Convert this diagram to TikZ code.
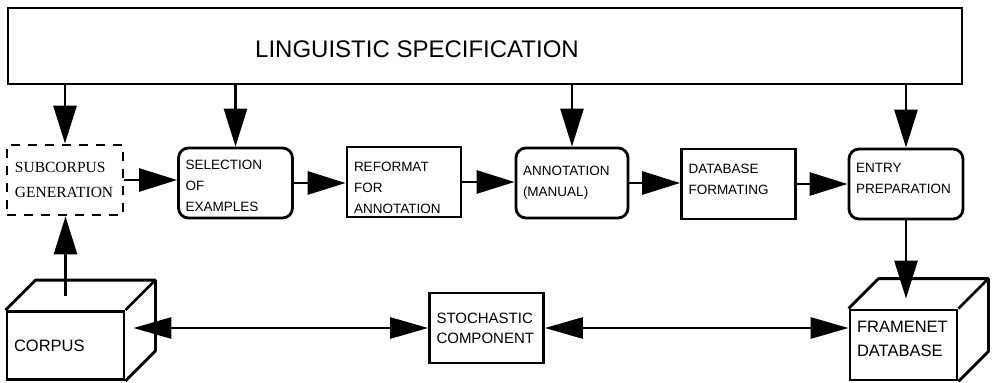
\documentclass[tikz,border=0pt]{standalone}
\usepackage{fontspec}
\setmainfont{Liberation Sans}
\newfontfamily\subfont{Liberation Serif}
\usetikzlibrary{arrows.meta, calc}

\begin{document}
\begin{tikzpicture}[x=1pt,y=-1pt,
		box/.style={draw,line width=2.8pt,minimum height=70pt,text width=100pt,inner xsep=7pt,inner ysep=0pt,align=left,font=\fontsize{13.5}{21}\selectfont},
		rbox/.style={box,rounded corners=10pt},
		cube/.style={box,minimum height=68pt,font=\fontsize{16.5}{24}\selectfont},
		flow/.style={line width=2.8pt,-{Triangle[length=38pt,width=23pt]}},
		both/.style={line width=2.8pt,{Triangle[length=38pt,width=21pt]}-{Triangle[length=38pt,width=21pt]}}]
		\useasboundingbox (0,0) rectangle (997,383);
		% 仕様
		\node[draw,line width=2.8pt,minimum width=954pt,minimum height=76pt] (spec) at (485,46) {};
		\node[anchor=west,inner sep=0pt,font=\fontsize{24}{28}\selectfont] (specText) at (255,49.5) {LINGUISTIC SPECIFICATION};
		% 中段
		\node[box,dash pattern=on 9pt off 8pt,text width=100pt,inner xsep=8pt,font=\subfont\fontsize{15.5}{25}\selectfont] (sub) at (65,180) {SUBCORPUS\\GENERATION};
		\node[rbox] (sel) at (235.5,183) {\mbox{}\\[-5pt]SELECTION\\OF\\EXAMPLES};
		\node[box] (ref) at (404,182) {\mbox{}\\[1pt]REFORMAT\\FOR\\ANNOTATION};
		\node[rbox,text width=98pt] (ann) at (572,183) {ANNOTATION\\(MANUAL)};
		\node[box] (db) at (738.5,184) {DATABASE\\FORMATING\\[-12pt]\mbox{}};
		\node[rbox] (ent) at (906,184) {ENTRY\\PREPARATION\\[-10pt]\mbox{}};
		% 下段
		\node[cube,text width=103pt] (corpus) at (65.5,345.5) {CORPUS};
		\node[box,font=\fontsize{15}{20}\selectfont] (stoch) at (486.5,328) {STOCHASTIC\\COMPONENT};
		\node[cube,text width=93pt,minimum height=70pt] (fn) at (903.5,345) {FRAMENET\\DATABASE\\[-12pt]\mbox{}};
		\foreach \c in {corpus,fn}
			\draw[line width=2.8pt,line join=round] (\c.north west) -- ++(30,-30) -| ($(\c.south east)+(30,-30)$) -- (\c.south east) (\c.north east) -- ++(30,-30); %立方体
		% 矢印
		\foreach \n in {sub,sel,ann,ent}
			\draw[flow] (spec.south -| \n.north) -- (\n.north);
		\draw[flow] (sub.east) -- (sub.east -| sel.west);
		\draw[flow] (sel.east) -- (sel.east -| ref.west);
		\draw[flow] (ref.east) -- (ref.east -| ann.west);
		\draw[flow] (ann.east) -- (ann.east -| db.west);
		\draw[flow] (db.east) -- (db.east -| ent.west);
		\coordinate (corpusTop) at ($(corpus.north)+(0,-14)$);
		\coordinate (fnTop) at ($(fn.north)+(0,-10)$);
		\coordinate (corpusSide) at ($(corpus.east)+(8,0)$);
		\draw[flow] (corpusTop) -- (corpusTop |- sub.south);
		\draw[flow] (ent.south) -- (ent.south |- fnTop);
		\draw[both] (corpusSide |- stoch.west) -- (stoch.west);
		\draw[both] (stoch.east) -- (stoch.east -| fn.west);
	\end{tikzpicture}
\end{document}
